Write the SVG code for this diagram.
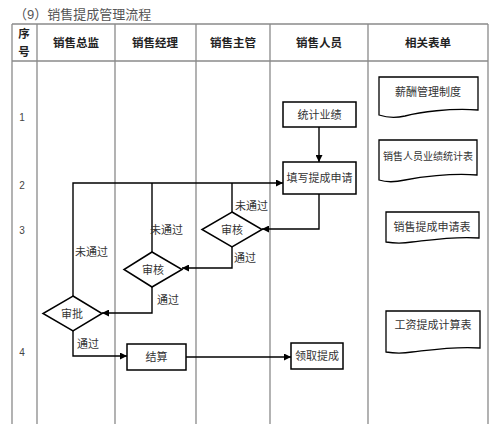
<svg xmlns="http://www.w3.org/2000/svg" width="500" height="424" viewBox="0 0 500 424">
<defs>
<marker id="arr" viewBox="0 0 10 10" refX="10" refY="5" markerWidth="7" markerHeight="7" orient="auto" markerUnits="userSpaceOnUse">
<path d="M0,0 L10,5 L0,10 z" fill="#000"/>
</marker>
<style>
text{font-family:"Liberation Sans","Noto Sans CJK SC",sans-serif;fill:#333;font-size:11px}
.title{font-size:13px;fill:#555}
.hdr{font-size:11.5px;font-weight:bold;fill:#222;text-anchor:middle}
.num{font-size:10px;fill:#444;text-anchor:middle}
.grid{stroke:#8a8a8a;stroke-width:1.3;fill:none}
.node{fill:#fff;stroke:#000;stroke-width:1.5}
.doc{fill:#fff;stroke:#000;stroke-width:1.3}
.lbl{text-anchor:middle;dominant-baseline:central}
.edge{fill:none;stroke:#000;stroke-width:1.4}
.el{font-size:11px;fill:#333}
</style>
</defs>
<rect width="500" height="424" fill="#fff"/>
<text class="title" x="14" y="19">（9）销售提成管理流程</text>
<g id="table">
<path class="grid" d="M12,24 H488 M12,61 H488 M12,24 V424 M37,24 V424 M115,24 V424 M196,24 V424 M270,24 V424 M368,24 V424 M488,24 V424"/>
<text class="hdr" x="24" y="38">序</text>
<text class="hdr" x="24" y="56">号</text>
<text class="hdr" x="76" y="47">销售总监</text>
<text class="hdr" x="155" y="47">销售经理</text>
<text class="hdr" x="233" y="47">销售主管</text>
<text class="hdr" x="319" y="47">销售人员</text>
<text class="hdr" x="428" y="47">相关表单</text>
<text class="num" x="22" y="121">1</text>
<text class="num" x="22" y="189">2</text>
<text class="num" x="22" y="234">3</text>
<text class="num" x="22" y="356">4</text>
</g>
<g id="connectors">
<path class="edge" d="M319,127 V162" marker-end="url(#arr)"/>
<path class="edge" d="M319,194 V229 H262" marker-end="url(#arr)"/>
<path class="edge" d="M232,212 V183"/>
<path class="edge" d="M152,252 V183"/>
<path class="edge" d="M73,296 V183 H283" marker-end="url(#arr)"/>
<path class="edge" d="M232,247 V268 H182" marker-end="url(#arr)"/>
<path class="edge" d="M152,287 V313 H102" marker-end="url(#arr)"/>
<path class="edge" d="M73,331 V356 H127" marker-end="url(#arr)"/>
<path class="edge" d="M186,357 H291" marker-end="url(#arr)"/>
<text class="el" x="235" y="210">未通过</text>
<text class="el" x="234" y="262">通过</text>
<text class="el" x="150" y="234">未通过</text>
<text class="el" x="157" y="304">通过</text>
<text class="el" x="75" y="256">未通过</text>
<text class="el" x="77" y="348">通过</text>
</g>
<g id="n-tongji">
<rect class="node" x="283" y="102" width="73" height="25"/>
<text class="lbl" x="319.5" y="114.5">统计业绩</text>
</g>
<g id="n-tianxie">
<rect class="node" x="283" y="162" width="73" height="32"/>
<text class="lbl" x="319.5" y="178">填写提成申请</text>
</g>
<g id="n-shenhe1">
<polygon class="node" points="232,212 262,229.5 232,247 202,229.5"/>
<text class="lbl" x="232" y="229.5">审核</text>
</g>
<g id="n-shenhe2">
<polygon class="node" points="152,252 182,269.5 152,287 124,269.5"/>
<text class="lbl" x="153" y="269.5">审核</text>
</g>
<g id="n-shenpi">
<polygon class="node" points="73,296 102,313.5 73,331 43,313.5"/>
<text class="lbl" x="72" y="313.5">审批</text>
</g>
<g id="n-jiesuan">
<rect class="node" x="127" y="344" width="59" height="26"/>
<text class="lbl" x="156.5" y="357">结算</text>
</g>
<g id="n-lingqu">
<rect class="node" x="291" y="343" width="52" height="26"/>
<text class="lbl" x="317" y="356">领取提成</text>
</g>
<g id="d-xinchou">
<path class="doc" d="M379,77 H478 V110 C450,108 420,112 405,116 C392,119 385,117 379,115 Z"/>
<text class="lbl" x="428" y="92">薪酬管理制度</text>
</g>
<g id="d-yeji">
<path class="doc" d="M379,140 H477 V175 C450,173 420,177 405,180 C392,183 385,182 379,180 Z"/>
<text class="lbl" x="428" y="156" style="font-size:10px">销售人员业绩统计表</text>
</g>
<g id="d-shenqing">
<path class="doc" d="M386,212 H479 V238 C455,236 430,240 412,242 C400,244 392,243 386,242 Z"/>
<text class="lbl" x="432" y="227">销售提成申请表</text>
</g>
<g id="d-jisuan">
<path class="doc" d="M386,311 H480 V348 C455,346 430,350 412,352 C400,354 392,353 386,352 Z"/>
<text class="lbl" x="433" y="325">工资提成计算表</text>
</g>
</svg>
